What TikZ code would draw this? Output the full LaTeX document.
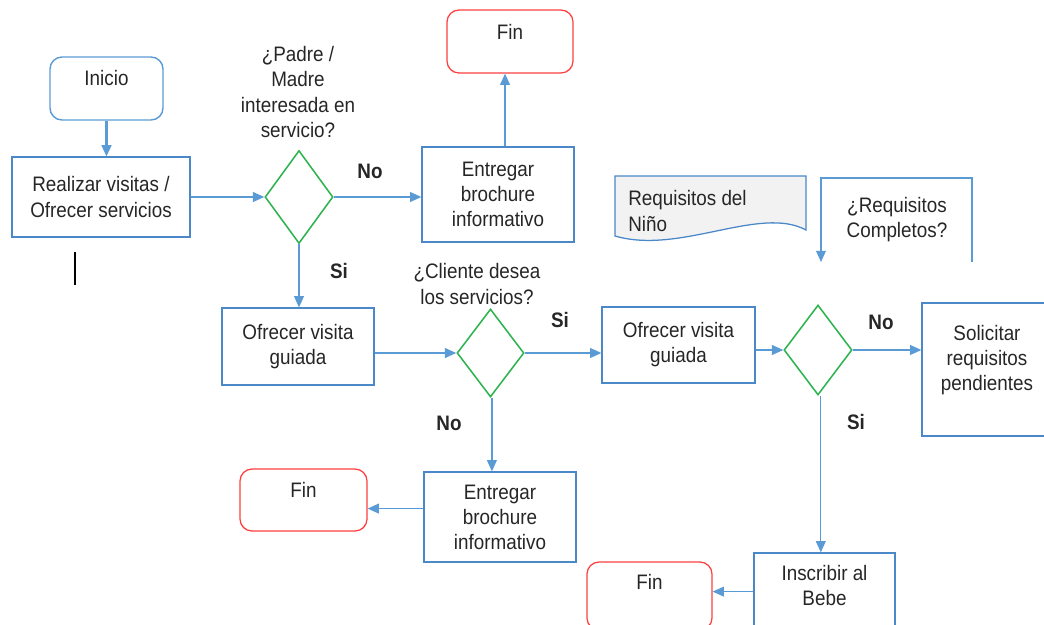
\documentclass[tikz,border=0pt]{standalone}
\usepackage{fontspec}
\setmainfont[FakeStretch=0.9]{Liberation Sans}
\usepackage{tikz}
\usetikzlibrary{shapes.geometric,arrows.meta}
\definecolor{lineblue}{HTML}{5B9BD5}
\definecolor{boxblue}{HTML}{4A88C8}
\definecolor{decgreen}{HTML}{2DB34F}
\definecolor{endred}{HTML}{FF3F3F}
\definecolor{docgray}{HTML}{F2F2F2}
\tikzset{
  every node/.style={font=\fontsize{14.9}{17.8}\selectfont, text=black!85},
  flow/.style={draw=lineblue, line width=0.9pt, -{Triangle[length=8pt,width=7pt]}},
  procbox/.style={draw=boxblue, line width=0.9pt, align=center, inner sep=0pt},
  startbox/.style={draw=lineblue, line width=1pt, rounded corners=3mm, text depth=5.5mm, inner sep=0pt},
  endbox/.style={draw=endred, line width=0.9pt, rounded corners=3mm, text depth=5mm, inner sep=0pt},
  decision/.style={diamond, draw=decgreen, line width=1.1pt, inner sep=0pt},
  question/.style={align=center, inner sep=0pt},
  answer/.style={font=\fontsize{14.9}{17.8}\selectfont\bfseries, inner sep=0pt},
}

\begin{document}
\begin{tikzpicture}[x=0.25mm,y=-0.25mm]
    \useasboundingbox (0,0) rectangle (1044,624);
    % primera fila
    \node[startbox, minimum width=28.25mm, minimum height=15.75mm] (ini) at (106.5,88.5) {Inicio};
    \node[procbox, minimum width=44.5mm, minimum height=20mm] (real) at (101,197) {Realizar visitas /\\Ofrecer servicios};
    \node[decision, minimum width=17mm, minimum height=23.25mm] (d1) at (299,197) {};
    \node[question] (q1) at (298,92) {¿Padre /\\Madre\\interesada en\\servicio?};
    \node[procbox, minimum width=38mm, minimum height=23.75mm] (ent1) at (498,194.5) {Entregar\\brochure\\informativo};
    \node[endbox, minimum width=31.5mm, minimum height=15.75mm] (fin1) at (510,41.5) {Fin};
    \draw[line width=0.9pt] (75,252) -- (75,285);
    % segunda fila
    \node[procbox, minimum width=38mm, minimum height=19.25mm] (ofr1) at (298,346.5) {Ofrecer visita\\guiada};
    \node[decision, minimum width=16.75mm, minimum height=22mm] (d2) at (490.5,353) {};
    \node[question] (q2) at (477,284) {¿Cliente desea\\los servicios?};
    \node[procbox, minimum width=38.25mm, minimum height=19mm] (ofr2) at (678.5,345) {Ofrecer visita\\guiada};
    \node[decision, minimum width=17mm, minimum height=22.5mm] (d3) at (818,350) {};
    \node[procbox, minimum width=32.5mm, minimum height=33.25mm, text depth=6mm] (sol) at (987,369.5) {Solicitar\\requisitos\\pendientes};
    % documento
    \draw[draw=boxblue, fill=docgray, line width=0.9pt] (615,176) -- (806,176) -- (806,230)
        .. controls (760,205) and (680,255) .. (615,236) -- cycle;
    \node[align=left, anchor=west, inner sep=0pt] (doc) at (628,211) {Requisitos del\\Niño};
    \node[question] (q3) at (897,220) {¿Requisitos\\Completos?};
    \coordinate (reqin) at (821,262);
    \draw[flow] (972,262) -- (972,178) -- (821,178) -- (reqin);
    % tercera fila
    \node[procbox, minimum width=38mm, minimum height=22.5mm] (ent2) at (500,517) {Entregar\\brochure\\informativo};
    \node[endbox, minimum width=31.75mm, minimum height=15.5mm] (fin2) at (303.5,500) {Fin};
    \node[procbox, minimum width=35.25mm, minimum height=20mm, text depth=4mm] (ins) at (824.5,593) {Inscribir al\\Bebe};
    \node[endbox, minimum width=31.25mm, minimum height=17mm, text depth=7mm] (fin3) at (649.5,596) {Fin};
    % conectores
    \draw[flow, line width=1.5pt] (ini.south) -- (ini.south |- real.north);
    \draw[flow] (real.east) -- (d1.west);
    \draw[flow] (d1.east) -- (d1.east -| ent1.west);
    \draw[flow] ([xshift=5pt]ent1.north) -- ([xshift=5pt]ent1.north |- fin1.south);
    \draw[flow] (d1.south) -- (d1.south |- ofr1.north);
    \draw[flow] (ofr1.east |- d2.west) -- (d2.west);
    \draw[flow] (d2.east) -- (d2.east -| ofr2.west);
    \draw[flow] ([xshift=1pt]d2.south) -- ([xshift=1pt]d2.south |- ent2.north);
    \draw[flow] ([yshift=6pt]ent2.west) -- ([yshift=6pt]ent2.west -| fin2.east);
    \draw[flow] (ofr2.east |- d3.west) -- (d3.west);
    \draw[flow] (d3.east) -- (d3.east -| sol.west);
    \draw[flow] ([xshift=2pt]d3.south) -- ([xshift=2pt]d3.south |- ins.north);
    \draw[flow] ([yshift=1pt]ins.west) -- ([yshift=1pt]ins.west -| fin3.east);
    % respuestas
    \node[answer] (no1) at (370,171) {No};
    \node[answer] (si1) at (339,271) {Si};
    \node[answer] (si2) at (560,320) {Si};
    \node[answer] (no2) at (449,423) {No};
    \node[answer] (no3) at (881,322) {No};
    \node[answer] (si3) at (856,422) {Si};
\end{tikzpicture}
\end{document}
